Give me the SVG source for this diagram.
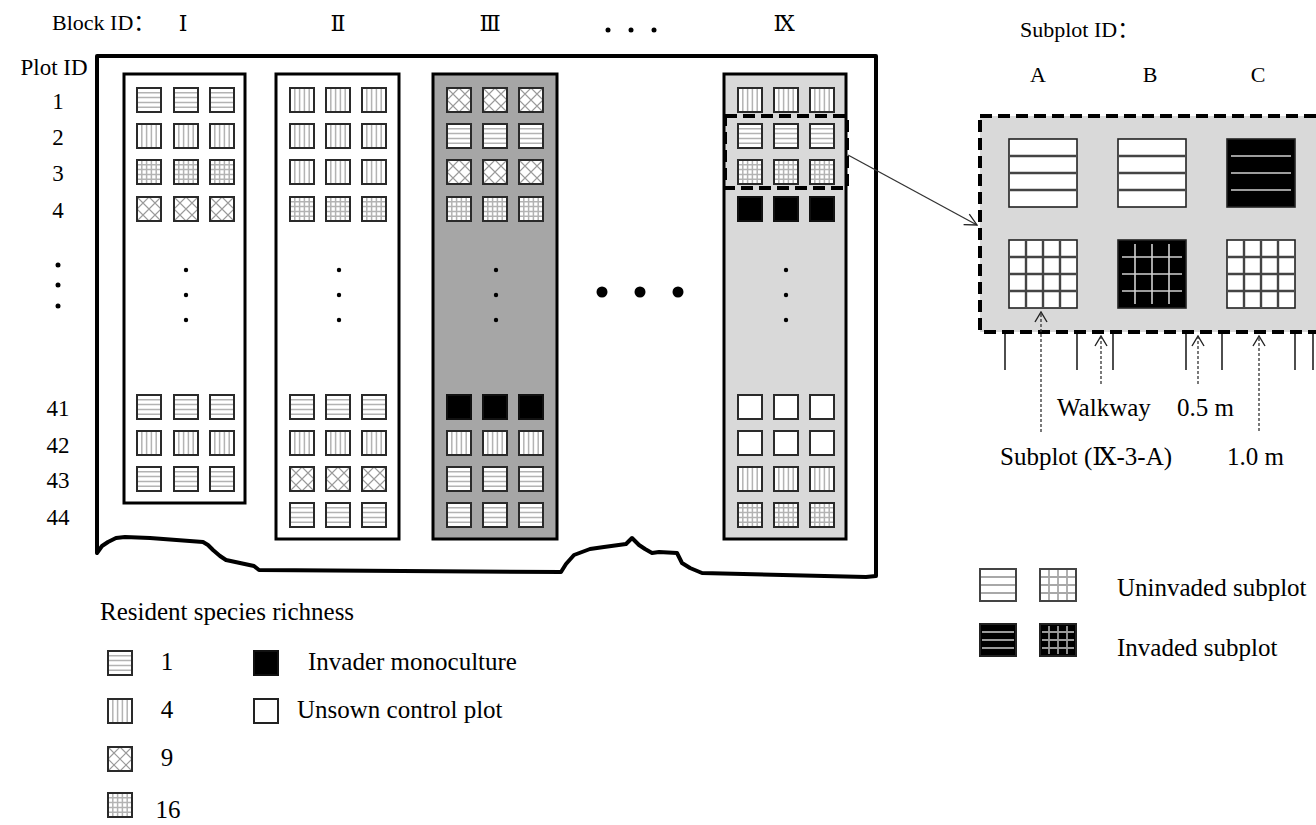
<svg xmlns="http://www.w3.org/2000/svg" width="1316" height="825" viewBox="0 0 1316 825">
<style>
text{font-family:"Liberation Serif","DejaVu Serif","Noto Sans CJK SC",serif;fill:#000}
.t22{font-size:22px}
.t23{font-size:23px}
.t24{font-size:25px}
.num{font-size:23px;text-anchor:middle}
.blk{stroke:#000;stroke-width:3}
.sqb{fill:#fff;stroke:#2a2a2a;stroke-width:2}
.pl{stroke:#b3b3b3;stroke-width:1.5;fill:none}
.px{stroke:#9a9a9a;stroke-width:1.1;fill:none}
.spb{stroke:#222;stroke-width:1.6}
.spl{stroke:#444;stroke-width:2.4;fill:none}
.spw{stroke:#d0d0d0;stroke-width:1.6;fill:none}
.dot{fill:#000}
.dash{fill:none;stroke:#000;stroke-width:4;stroke-dasharray:12 6}
.ptr{fill:none;stroke:#333;stroke-width:1.3;stroke-dasharray:3 2}
.tick{stroke:#222;stroke-width:1.6}
</style>
<defs>
<marker id="up" viewBox="0 0 12 14" refX="11" refY="7" markerWidth="12" markerHeight="14" markerUnits="userSpaceOnUse" orient="auto">
<path d="M1,1 L11,7 L1,13" fill="none" stroke="#222" stroke-width="1.4"/>
</marker>
<marker id="open" viewBox="0 0 14 14" refX="13" refY="7" markerWidth="14" markerHeight="14" markerUnits="userSpaceOnUse" orient="auto">
<path d="M1,1 L13,7 L1,13" fill="none" stroke="#222" stroke-width="1.3"/>
</marker>
<g id="sqH"><rect class="sqb" width="24" height="24"/><path class="pl" d="M1,4.8H23M1,9.6H23M1,14.4H23M1,19.2H23"/><rect width="24" height="24" fill="none" stroke="#2a2a2a" stroke-width="2"/></g>
<g id="sqV"><rect class="sqb" width="24" height="24"/><path class="pl" d="M4.8,1V23M9.6,1V23M14.4,1V23M19.2,1V23"/><rect width="24" height="24" fill="none" stroke="#2a2a2a" stroke-width="2"/></g>
<g id="sqG"><rect class="sqb" width="24" height="24"/><path class="pl" d="M1,4.8H23M1,9.6H23M1,14.4H23M1,19.2H23M4.8,1V23M9.6,1V23M14.4,1V23M19.2,1V23"/><rect width="24" height="24" fill="none" stroke="#2a2a2a" stroke-width="2"/></g>
<g id="sqX"><rect class="sqb" width="24" height="24"/><path class="px" d="M0,0L24,24M0,24L24,0M0,12L12,0M12,24L24,12M0,12L12,24M12,0L24,12"/><rect width="24" height="24" fill="none" stroke="#2a2a2a" stroke-width="2"/></g>
<g id="sqB"><rect width="24" height="24" fill="#000" stroke="#111" stroke-width="2"/></g>
<g id="sqW"><rect class="sqb" width="24" height="24"/></g>
<g id="spH"><rect class="spb" width="68" height="68" fill="#fff"/><path class="spl" d="M1,17H67M1,34H67M1,51H67"/></g>
<g id="spHB"><rect class="spb" width="68" height="68" fill="#000"/><path class="spw" d="M4,17H64M4,34H64M4,51H64"/></g>
<g id="spG"><rect class="spb" width="68" height="68" fill="#fff"/><path class="spl" d="M1,17H67M1,34H67M1,51H67M17,1V67M34,1V67M51,1V67"/></g>
<g id="spGB"><rect class="spb" width="68" height="68" fill="#000"/><path class="spw" d="M4,17H64M4,34H64M4,51H64M17,4V64M34,4V64M51,4V64"/></g>
<g id="lgH"><rect width="36" height="32" fill="#fff" stroke="#444" stroke-width="2"/><path d="M1,8H35M1,16H35M1,24H35" stroke="#a8a8a8" stroke-width="1.8"/></g>
<g id="lgG"><rect width="36" height="32" fill="#fff" stroke="#444" stroke-width="2"/><path d="M1,8H35M1,16H35M1,24H35M9,1V31M18,1V31M27,1V31" stroke="#a8a8a8" stroke-width="1.8"/></g>
<g id="lgHB"><rect width="36" height="32" fill="#000" stroke="#222" stroke-width="2"/><path d="M2,8H34M2,16H34M2,24H34" stroke="#9a9a9a" stroke-width="1.8"/></g>
<g id="lgGB"><rect width="36" height="32" fill="#000" stroke="#222" stroke-width="2"/><path d="M2,8H34M2,16H34M2,24H34M9,2V30M18,2V30M27,2V30" stroke="#9a9a9a" stroke-width="1.8"/></g>
</defs>
<rect width="1316" height="825" fill="#fff"/>

<g id="labels-top">
<text class="t22" x="52" y="30">Block ID：</text>
<text class="t22" x="183" y="31" text-anchor="middle" font-size="24">Ⅰ</text>
<text class="t22" x="338" y="31" text-anchor="middle" font-size="24">Ⅱ</text>
<text class="t22" x="490" y="31" text-anchor="middle" font-size="24">Ⅲ</text>
<circle class="dot" cx="608" cy="30" r="2.5"/><circle class="dot" cx="631" cy="30" r="2.5"/><circle class="dot" cx="654" cy="30" r="2.5"/>
<text class="t22" x="784" y="31" text-anchor="middle" font-size="24">Ⅸ</text>
</g>

<g id="plot-ids">
<text class="t23" x="54" y="75" text-anchor="middle">Plot ID</text>
<text class="num" x="58" y="109">1</text>
<text class="num" x="58" y="145">2</text>
<text class="num" x="58" y="181">3</text>
<text class="num" x="58" y="218">4</text>
<circle class="dot" cx="58" cy="265" r="2.5"/><circle class="dot" cx="58" cy="285" r="2.5"/><circle class="dot" cx="58" cy="306" r="2.5"/>
<text class="num" x="58" y="416">41</text>
<text class="num" x="58" y="453">42</text>
<text class="num" x="58" y="488">43</text>
<text class="num" x="58" y="525">44</text>
</g>

<g id="field">
<path d="M97,553 L97,56 L876,56 L876,576 L866,577 L702,573 L690,568 L682,563 L677,553 L659,552 L652,553 L645,549 L639,545 L632,538 L626,544 L604,547 L590,549 L574,555 L566,564 L561,572 L259,570 L254,566 L240,563 L226,560 L220,556 L213,550 L208,545 L203,542 L150,538 L125,537 L116,538 L108,542 L102,546 Z" fill="#fff" stroke="#000" stroke-width="4" stroke-linejoin="round"/>
</g>

<g id="block-I">
<rect class="blk" x="124" y="74" width="121" height="429" fill="#fff"/>
<use href="#sqH" x="137" y="88"/><use href="#sqH" x="174" y="88"/><use href="#sqH" x="210" y="88"/>
<use href="#sqV" x="137" y="124"/><use href="#sqV" x="174" y="124"/><use href="#sqV" x="210" y="124"/>
<use href="#sqG" x="137" y="160"/><use href="#sqG" x="174" y="160"/><use href="#sqG" x="210" y="160"/>
<use href="#sqX" x="137" y="197"/><use href="#sqX" x="174" y="197"/><use href="#sqX" x="210" y="197"/>
<circle class="dot" cx="186" cy="270" r="2.2"/><circle class="dot" cx="186" cy="295" r="2.2"/><circle class="dot" cx="186" cy="320" r="2.2"/>
<use href="#sqH" x="137" y="395"/><use href="#sqH" x="174" y="395"/><use href="#sqH" x="210" y="395"/>
<use href="#sqV" x="137" y="431"/><use href="#sqV" x="174" y="431"/><use href="#sqV" x="210" y="431"/>
<use href="#sqH" x="137" y="467"/><use href="#sqH" x="174" y="467"/><use href="#sqH" x="210" y="467"/>
</g>

<g id="block-II">
<rect class="blk" x="276" y="74" width="123" height="465" fill="#fff"/>
<use href="#sqV" x="290" y="88"/><use href="#sqV" x="326" y="88"/><use href="#sqV" x="362" y="88"/>
<use href="#sqV" x="290" y="124"/><use href="#sqV" x="326" y="124"/><use href="#sqV" x="362" y="124"/>
<use href="#sqV" x="290" y="160"/><use href="#sqV" x="326" y="160"/><use href="#sqV" x="362" y="160"/>
<use href="#sqG" x="290" y="197"/><use href="#sqG" x="326" y="197"/><use href="#sqG" x="362" y="197"/>
<circle class="dot" cx="339" cy="270" r="2.2"/><circle class="dot" cx="339" cy="295" r="2.2"/><circle class="dot" cx="339" cy="320" r="2.2"/>
<use href="#sqH" x="290" y="395"/><use href="#sqH" x="326" y="395"/><use href="#sqH" x="362" y="395"/>
<use href="#sqV" x="290" y="431"/><use href="#sqV" x="326" y="431"/><use href="#sqV" x="362" y="431"/>
<use href="#sqX" x="290" y="467"/><use href="#sqX" x="326" y="467"/><use href="#sqX" x="362" y="467"/>
<use href="#sqH" x="290" y="503"/><use href="#sqH" x="326" y="503"/><use href="#sqH" x="362" y="503"/>
</g>

<g id="block-III">
<rect class="blk" x="433" y="74" width="124" height="465" fill="#a6a6a6"/>
<use href="#sqX" x="447" y="88"/><use href="#sqX" x="483" y="88"/><use href="#sqX" x="519" y="88"/>
<use href="#sqH" x="447" y="124"/><use href="#sqH" x="483" y="124"/><use href="#sqH" x="519" y="124"/>
<use href="#sqX" x="447" y="160"/><use href="#sqX" x="483" y="160"/><use href="#sqX" x="519" y="160"/>
<use href="#sqG" x="447" y="197"/><use href="#sqG" x="483" y="197"/><use href="#sqG" x="519" y="197"/>
<circle class="dot" cx="496" cy="270" r="2.2"/><circle class="dot" cx="496" cy="295" r="2.2"/><circle class="dot" cx="496" cy="320" r="2.2"/>
<use href="#sqB" x="447" y="395"/><use href="#sqB" x="483" y="395"/><use href="#sqB" x="519" y="395"/>
<use href="#sqV" x="447" y="431"/><use href="#sqV" x="483" y="431"/><use href="#sqV" x="519" y="431"/>
<use href="#sqH" x="447" y="467"/><use href="#sqH" x="483" y="467"/><use href="#sqH" x="519" y="467"/>
<use href="#sqH" x="447" y="503"/><use href="#sqH" x="483" y="503"/><use href="#sqH" x="519" y="503"/>
</g>

<g id="more-blocks">
<circle class="dot" cx="602" cy="292" r="5.5"/><circle class="dot" cx="640" cy="292" r="5.5"/><circle class="dot" cx="678" cy="292" r="5.5"/>
</g>

<g id="block-IX">
<rect class="blk" x="724" y="74" width="122" height="465" fill="#d9d9d9"/>
<use href="#sqV" x="738" y="88"/><use href="#sqV" x="774" y="88"/><use href="#sqV" x="810" y="88"/>
<use href="#sqH" x="738" y="124"/><use href="#sqH" x="774" y="124"/><use href="#sqH" x="810" y="124"/>
<use href="#sqG" x="738" y="160"/><use href="#sqG" x="774" y="160"/><use href="#sqG" x="810" y="160"/>
<use href="#sqB" x="738" y="197"/><use href="#sqB" x="774" y="197"/><use href="#sqB" x="810" y="197"/>
<circle class="dot" cx="786" cy="270" r="2.2"/><circle class="dot" cx="786" cy="295" r="2.2"/><circle class="dot" cx="786" cy="320" r="2.2"/>
<use href="#sqW" x="738" y="395"/><use href="#sqW" x="774" y="395"/><use href="#sqW" x="810" y="395"/>
<use href="#sqW" x="738" y="431"/><use href="#sqW" x="774" y="431"/><use href="#sqW" x="810" y="431"/>
<use href="#sqV" x="738" y="467"/><use href="#sqV" x="774" y="467"/><use href="#sqV" x="810" y="467"/>
<use href="#sqG" x="738" y="503"/><use href="#sqG" x="774" y="503"/><use href="#sqG" x="810" y="503"/>
<rect class="dash" x="725" y="116" width="122" height="72"/>
</g>

<g id="subplot-panel">
<text class="t22" x="1020" y="37">Subplot ID：</text>
<text class="t22" x="1038" y="82" text-anchor="middle">A</text>
<text class="t22" x="1150" y="82" text-anchor="middle">B</text>
<text class="t22" x="1258" y="82" text-anchor="middle">C</text>
<rect x="980" y="116" width="350" height="216" fill="#d9d9d9" stroke="#000" stroke-width="4" stroke-dasharray="12 6"/>
<use href="#spH" x="1009" y="139"/>
<use href="#spH" x="1118" y="139"/>
<use href="#spHB" x="1227" y="139"/>
<use href="#spG" x="1009" y="240"/>
<use href="#spGB" x="1118" y="240"/>
<use href="#spG" x="1227" y="240"/>
</g>

<g id="connectors">
<line x1="848" y1="155" x2="977" y2="225" stroke="#333" stroke-width="1.3" marker-end="url(#open)"/>
<path class="tick" d="M1005,334V370M1077,334V370M1113,334V370M1186,334V370M1222,334V370M1295,334V370M1313,334V370"/>
<line class="ptr" x1="1041" y1="432" x2="1041" y2="312" marker-end="url(#up)"/>
<line class="ptr" x1="1101" y1="384" x2="1101" y2="336" marker-end="url(#up)"/>
<line class="ptr" x1="1198" y1="384" x2="1198" y2="336" marker-end="url(#up)"/>
<line class="ptr" x1="1259" y1="431" x2="1259" y2="336" marker-end="url(#up)"/>
</g>

<g id="dimension-labels">
<text class="t24" x="1057" y="416">Walkway</text>
<text class="t24" x="1177" y="416">0.5 m</text>
<text class="t24" x="1000" y="465">Subplot (Ⅸ-3-A)</text>
<text class="t24" x="1227" y="465">1.0 m</text>
</g>

<g id="legend-richness">
<text class="t24" x="100" y="620">Resident species richness</text>
<use href="#sqH" x="108" y="651"/>
<text class="t24" x="167" y="670" text-anchor="middle">1</text>
<use href="#sqV" x="108" y="699"/>
<text class="t24" x="167" y="718" text-anchor="middle">4</text>
<use href="#sqX" x="108" y="747"/>
<text class="t24" x="167" y="766" text-anchor="middle">9</text>
<use href="#sqG" x="108" y="793"/>
<text class="t24" x="168" y="818" text-anchor="middle">16</text>
</g>

<g id="legend-treatment">
<rect x="254" y="651" width="24" height="24" fill="#000" stroke="#111" stroke-width="2"/>
<text class="t24" x="308" y="670">Invader monoculture</text>
<rect x="254" y="699" width="24" height="24" fill="#fff" stroke="#222" stroke-width="2"/>
<text class="t24" x="297" y="718">Unsown control plot</text>
</g>

<g id="legend-subplot">
<use href="#lgH" x="980" y="569"/>
<use href="#lgG" x="1040" y="569"/>
<text class="t24" x="1117" y="596">Uninvaded subplot</text>
<use href="#lgHB" x="980" y="624"/>
<use href="#lgGB" x="1040" y="624"/>
<text class="t24" x="1117" y="656">Invaded subplot</text>
</g>
</svg>
